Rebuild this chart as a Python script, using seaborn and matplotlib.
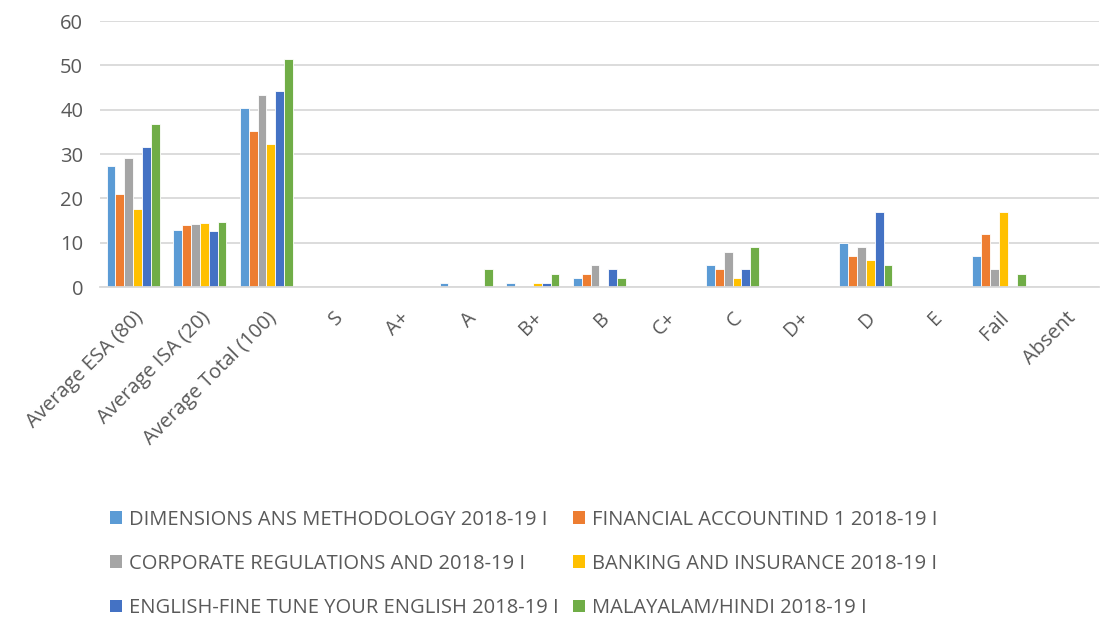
import matplotlib
matplotlib.use("Agg")
import matplotlib.pyplot as plt
import seaborn as sns
import pandas as pd
from matplotlib.patches import Patch

categories = ["Average ESA (80)", "Average ISA (20)", "Average Total (100)", "S", "A+", "A",
              "B+", "B", "C+", "C", "D+", "D", "E", "Fail", "Absent"]

series = [
    "DIMENSIONS ANS METHODOLOGY 2018-19 I",
    "FINANCIAL ACCOUNTIND 1 2018-19 I",
    "CORPORATE REGULATIONS AND 2018-19 I",
    "BANKING AND INSURANCE 2018-19 I",
    "ENGLISH-FINE TUNE YOUR ENGLISH 2018-19 I",
    "MALAYALAM/HINDI 2018-19 I",
]

dimensions = [27.4, 12.9, 40.3, 0, 0, 1, 1, 2, 0, 5, 0, 10, 0, 7, 0]
financial = [21.1, 14.1, 35.2, 0, 0, 0, 0, 3, 0, 4, 0, 7, 0, 12, 0]
corporate = [29.1, 14.3, 43.4, 0, 0, 0, 0, 5, 0, 8, 0, 9, 0, 4, 0]
banking = [17.7, 14.5, 32.3, 0, 0, 0, 1, 0, 0, 2, 0, 6, 0, 17, 0]
english = [31.6, 12.6, 44.2, 0, 0, 0, 1, 4, 0, 4, 0, 17, 0, 0, 0]
malayalam = [36.8, 14.6, 51.5, 0, 0, 4, 3, 2, 0, 9, 0, 5, 0, 3, 0]

colors = ["#5B9BD5", "#ED7D31", "#A5A5A5", "#FFC000", "#4472C4", "#70AD47"]

rows = []
for name, vals in zip(series, [dimensions, financial, corporate, banking, english, malayalam]):
    for cat, v in zip(categories, vals):
        rows.append({"category": cat, "series": name, "value": v})
df = pd.DataFrame(rows)

sns.set_style("white")
plt.rcParams["font.family"] = ["Open Sans", "DejaVu Sans"]
text_color = "#595959"

fig = plt.figure(figsize=(11.1, 6.2), dpi=100)
ax = fig.add_axes([0.09, 0.537, 0.9, 0.429])

sns.barplot(data=df, x="category", y="value", hue="series", order=categories,
            hue_order=series, palette=colors, width=0.8, edgecolor="white",
            linewidth=0.6, saturation=1, legend=False, ax=ax)

ax.set_ylim(0, 60)
ax.set_xlim(-0.5, len(categories) - 0.5)
ax.set_yticks(range(0, 61, 10))
ax.yaxis.grid(True, color="#D9D9D9", linewidth=1.3)
ax.set_axisbelow(True)
for s in ["top", "right", "left"]:
    ax.spines[s].set_visible(False)
ax.spines["bottom"].set_color("#D9D9D9")
ax.spines["bottom"].set_linewidth(1.3)
ax.tick_params(axis="both", length=0, colors=text_color, labelsize=14.5)
ax.tick_params(axis="y", pad=12)
ax.tick_params(axis="x", pad=15)
ax.set_xlabel("")
ax.set_ylabel("")
plt.setp(ax.get_xticklabels(), rotation=45, ha="right", rotation_mode="anchor")

handles = [Patch(facecolor=c, edgecolor="none") for c in colors]
order = [0, 2, 4, 1, 3, 5]
leg = fig.legend([handles[i] for i in order], [series[i] for i in order],
                 loc="upper left", bbox_to_anchor=(0.083, 0.207), ncol=2, frameon=False,
                 fontsize=14.5, handlelength=0.6, handleheight=0.6, handletextpad=0.35,
                 columnspacing=0.7, labelspacing=1.2, labelcolor=text_color)

fig.savefig("out.png", dpi=100)
